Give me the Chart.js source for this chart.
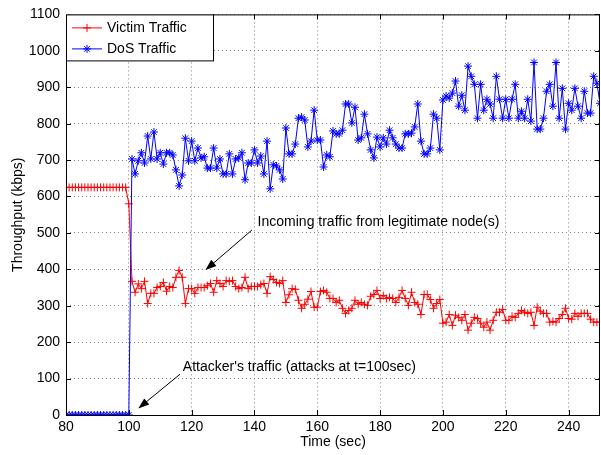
<!DOCTYPE html>
<html>
<head>
<meta charset="utf-8">
<script src="https://cdn.jsdelivr.net/npm/chart.js@4.4.1/dist/chart.umd.min.js"></script>
<style>
  html, body { margin: 0; padding: 0; background: #fff; }
  #wrap { width: 601px; height: 455px; }
</style>
</head>
<body>
<div id="wrap"><canvas id="tp" width="601" height="455"></canvas></div>
<script>
// time axis (sec)
const times = [
  80, 81, 82, 83, 84, 85, 86, 87, 88, 89, 90, 91, 92, 93, 94, 95, 96, 97, 98, 99,
  100, 101, 102, 103, 104, 105, 106, 107, 108, 109, 110, 111, 112, 113, 114, 115, 116, 117, 118, 119,
  120, 121, 122, 123, 124, 125, 126, 127, 128, 129, 130, 131, 132, 133, 134, 135, 136, 137, 138, 139,
  140, 141, 142, 143, 144, 145, 146, 147, 148, 149, 150, 151, 152, 153, 154, 155, 156, 157, 158, 159,
  160, 161, 162, 163, 164, 165, 166, 167, 168, 169, 170, 171, 172, 173, 174, 175, 176, 177, 178, 179,
  180, 181, 182, 183, 184, 185, 186, 187, 188, 189, 190, 191, 192, 193, 194, 195, 196, 197, 198, 199,
  200, 201, 202, 203, 204, 205, 206, 207, 208, 209, 210, 211, 212, 213, 214, 215, 216, 217, 218, 219,
  220, 221, 222, 223, 224, 225, 226, 227, 228, 229, 230, 231, 232, 233, 234, 235, 236, 237, 238, 239,
  240, 241, 242, 243, 244, 245, 246, 247, 248, 249, 250
];

// Victim Traffic (kbps)
const victim = [
  625, 625, 625, 625, 625, 625, 625, 625, 625, 625, 625, 625, 625, 625, 625, 625, 625, 625, 625, 625,
  580, 367, 337, 360, 347, 367, 306, 334, 334, 350, 353, 364, 340, 353, 350, 378, 397, 378, 306, 347,
  347, 334, 350, 350, 350, 355, 361, 337, 369, 361, 353, 369, 367, 369, 353, 347, 350, 378, 347, 353,
  353, 353, 358, 361, 334, 380, 372, 364, 361, 369, 309, 330, 347, 345, 315, 293, 304, 318, 339, 296,
  296, 339, 342, 337, 320, 320, 309, 315, 293, 279, 287, 293, 315, 304, 309, 304, 301, 326, 331, 342,
  320, 328, 320, 323, 320, 309, 323, 342, 320, 301, 337, 309, 304, 276, 331, 331, 317, 293, 306, 317,
  252, 255, 276, 246, 274, 268, 260, 276, 233, 252, 268, 265, 252, 241, 255, 233, 260, 282, 282, 290,
  260, 260, 271, 268, 279, 287, 282, 279, 282, 246, 296, 285, 279, 279, 255, 257, 255, 265, 276, 293,
  265, 263, 279, 271, 279, 279, 279, 263, 255, 255, 255
];

// DoS Traffic (kbps)
const dos = [
  0, 0, 0, 0, 0, 0, 0, 0, 0, 0, 0, 0, 0, 0, 0, 0, 0, 0, 0, 0,
  0, 703, 662, 698, 720, 692, 766, 703, 777, 703, 720, 689, 720, 720, 714, 673, 629, 659, 760, 698,
  752, 698, 733, 706, 709, 678, 678, 733, 678, 703, 662, 662, 717, 662, 703, 706, 720, 646, 692, 692,
  728, 692, 711, 662, 752, 621, 687, 684, 673, 648, 788, 717, 717, 744, 815, 818, 810, 736, 752, 837,
  755, 755, 681, 714, 709, 780, 772, 772, 782, 854, 854, 802, 845, 755, 761, 826, 772, 728, 706, 763,
  736, 761, 744, 782, 761, 744, 733, 733, 772, 772, 774, 791, 854, 752, 717, 717, 733, 826, 815, 728,
  865, 876, 870, 884, 917, 848, 878, 837, 958, 930, 908, 815, 908, 837, 867, 854, 815, 930, 867, 815,
  867, 815, 867, 908, 815, 834, 815, 867, 807, 968, 785, 785, 815, 889, 908, 848, 968, 815, 897, 785,
  856, 837, 897, 848, 815, 889, 829, 829, 930, 911, 856
];

const xTicks = [80, 100, 120, 140, 160, 180, 200, 220, 240];
const yTicks = [0, 100, 200, 300, 400, 500, 600, 700, 800, 900, 1000, 1100];

const FONT = 'Liberation Sans, Arial, Helvetica, sans-serif';

function pts(vals) {
    return times.map((t, i) => ({ x: t, y: vals[i] }));
}

function drawMarker(ctx, style, x, y, r) {
    ctx.beginPath();
    ctx.moveTo(x - r, y); ctx.lineTo(x + r, y);
    ctx.moveTo(x, y - r); ctx.lineTo(x, y + r);
    if (style === 'star') {
        const d = r * 0.707;
        ctx.moveTo(x - d, y - d); ctx.lineTo(x + d, y + d);
        ctx.moveTo(x - d, y + d); ctx.lineTo(x + d, y - d);
    }
    ctx.stroke();
}

function arrow(ctx, x1, y1, x2, y2) {
    const ang = Math.atan2(y2 - y1, x2 - x1);
    const len = 11, wid = 4;
    ctx.beginPath();
    ctx.moveTo(x1, y1);
    ctx.lineTo(x2 - Math.cos(ang) * len * 0.8, y2 - Math.sin(ang) * len * 0.8);
    ctx.stroke();
    ctx.beginPath();
    ctx.moveTo(x2, y2);
    ctx.lineTo(x2 - Math.cos(ang) * len - Math.sin(ang) * wid, y2 - Math.sin(ang) * len + Math.cos(ang) * wid);
    ctx.lineTo(x2 - Math.cos(ang) * len + Math.sin(ang) * wid, y2 - Math.sin(ang) * len - Math.cos(ang) * wid);
    ctx.closePath();
    ctx.fill();
}

// box, inner ticks, legend and annotations (matlab look)
const decor = {
    id: 'decor',
    afterDatasetsDraw(chart) {
        const { ctx, chartArea: a, scales: { x, y } } = chart;
        ctx.save();
        ctx.strokeStyle = '#000';
        ctx.fillStyle = '#000';
        ctx.lineWidth = 1;

        // inner ticks
        ctx.beginPath();
        xTicks.forEach(v => {
            const px = Math.round(x.getPixelForValue(v)) + 0.5;
            ctx.moveTo(px, a.bottom); ctx.lineTo(px, a.bottom - 5);
            ctx.moveTo(px, a.top); ctx.lineTo(px, a.top + 5);
        });
        yTicks.forEach(v => {
            const py = Math.round(y.getPixelForValue(v)) + 0.5;
            ctx.moveTo(a.left, py); ctx.lineTo(a.left + 5, py);
            ctx.moveTo(a.right, py); ctx.lineTo(a.right - 5, py);
        });
        ctx.stroke();
        ctx.strokeRect(a.left + 0.5, a.top + 0.5, a.right - a.left - 1, a.bottom - a.top);

        // annotations
        ctx.font = '14px ' + FONT;
        ctx.textBaseline = 'middle';
        ctx.textAlign = 'left';
        ctx.fillText('Incoming traffic from legitimate node(s)', x.getPixelForValue(141), y.getPixelForValue(530));
        arrow(ctx, x.getPixelForValue(139.2), y.getPixelForValue(508), x.getPixelForValue(124.4), y.getPixelForValue(398));
        ctx.fillText("Attacker's traffic (attacks at t=100sec)", x.getPixelForValue(117.2), y.getPixelForValue(132));
        arrow(ctx, x.getPixelForValue(116.3), y.getPixelForValue(112), x.getPixelForValue(103), y.getPixelForValue(18));

        // legend
        const lx = a.left, ly = a.top, lw = 147, lh = 46;
        ctx.fillStyle = '#fff';
        ctx.fillRect(lx, ly, lw, lh);
        ctx.strokeRect(lx + 0.5, ly + 0.5, lw, lh);
        const rows = [
            { label: 'Victim Traffic', color: '#ff0000', style: 'cross', y: ly + 13 },
            { label: 'DoS Traffic', color: '#0000ff', style: 'star', y: ly + 34 }
        ];
        rows.forEach(r => {
            ctx.strokeStyle = r.color;
            ctx.beginPath();
            ctx.moveTo(lx + 6, r.y + 0.5); ctx.lineTo(lx + 36, r.y + 0.5);
            ctx.stroke();
            drawMarker(ctx, r.style, lx + 21, r.y + 0.5, 4);
            ctx.fillStyle = '#000';
            ctx.fillText(r.label, lx + 41, r.y + 1);
        });
        ctx.restore();
    }
};

new Chart(document.getElementById('tp'), {
    type: 'line',
    data: {
        datasets: [{
            label: 'Victim Traffic',
            data: pts(victim),
            borderColor: '#ff0000',
            borderWidth: 1,
            pointStyle: 'cross',
            pointRadius: 4,
            pointBorderColor: '#ff0000',
            pointBorderWidth: 1,
            tension: 0,
            order: 2
        }, {
            label: 'DoS Traffic',
            data: pts(dos),
            borderColor: '#0000ff',
            borderWidth: 1,
            pointStyle: 'star',
            pointRadius: 4,
            pointBorderColor: '#0000ff',
            pointBorderWidth: 1,
            tension: 0,
            order: 1
        }]
    },
    options: {
        responsive: false,
        animation: false,
        devicePixelRatio: 1,
        layout: { autoPadding: false, padding: { top: 13, right: 1, left: 0, bottom: 0 } },
        plugins: {
            legend: { display: false },
            tooltip: { enabled: false }
        },
        scales: {
            x: {
                type: 'linear',
                min: 80,
                max: 250,
                afterBuildTicks: s => { s.ticks = xTicks.map(v => ({ value: v })); },
                afterFit: s => { s.height = 40; },
                grid: { color: '#808080', lineWidth: 1, drawTicks: false },
                border: { display: false, dash: [1, 3] },
                ticks: { color: '#000', font: { family: FONT, size: 14 }, padding: 4, maxRotation: 0, callback: v => String(v) },
                title: { display: true, text: 'Time (sec)', color: '#000', font: { family: FONT, size: 14 }, padding: { top: 0, bottom: 4 } }
            },
            y: {
                min: 0,
                max: 1100,
                afterBuildTicks: s => { s.ticks = yTicks.map(v => ({ value: v })); },
                afterFit: s => { s.width = 66; },
                grid: { color: '#808080', lineWidth: 1, drawTicks: false },
                border: { display: false, dash: [1, 3] },
                ticks: { color: '#000', font: { family: FONT, size: 14 }, padding: 6, callback: v => String(v) },
                title: { display: true, text: 'Throughput (kbps)', color: '#000', font: { family: FONT, size: 14 }, padding: { top: 10, bottom: 0 } }
            }
        }
    },
    plugins: [decor]
});
</script>
</body>
</html>
